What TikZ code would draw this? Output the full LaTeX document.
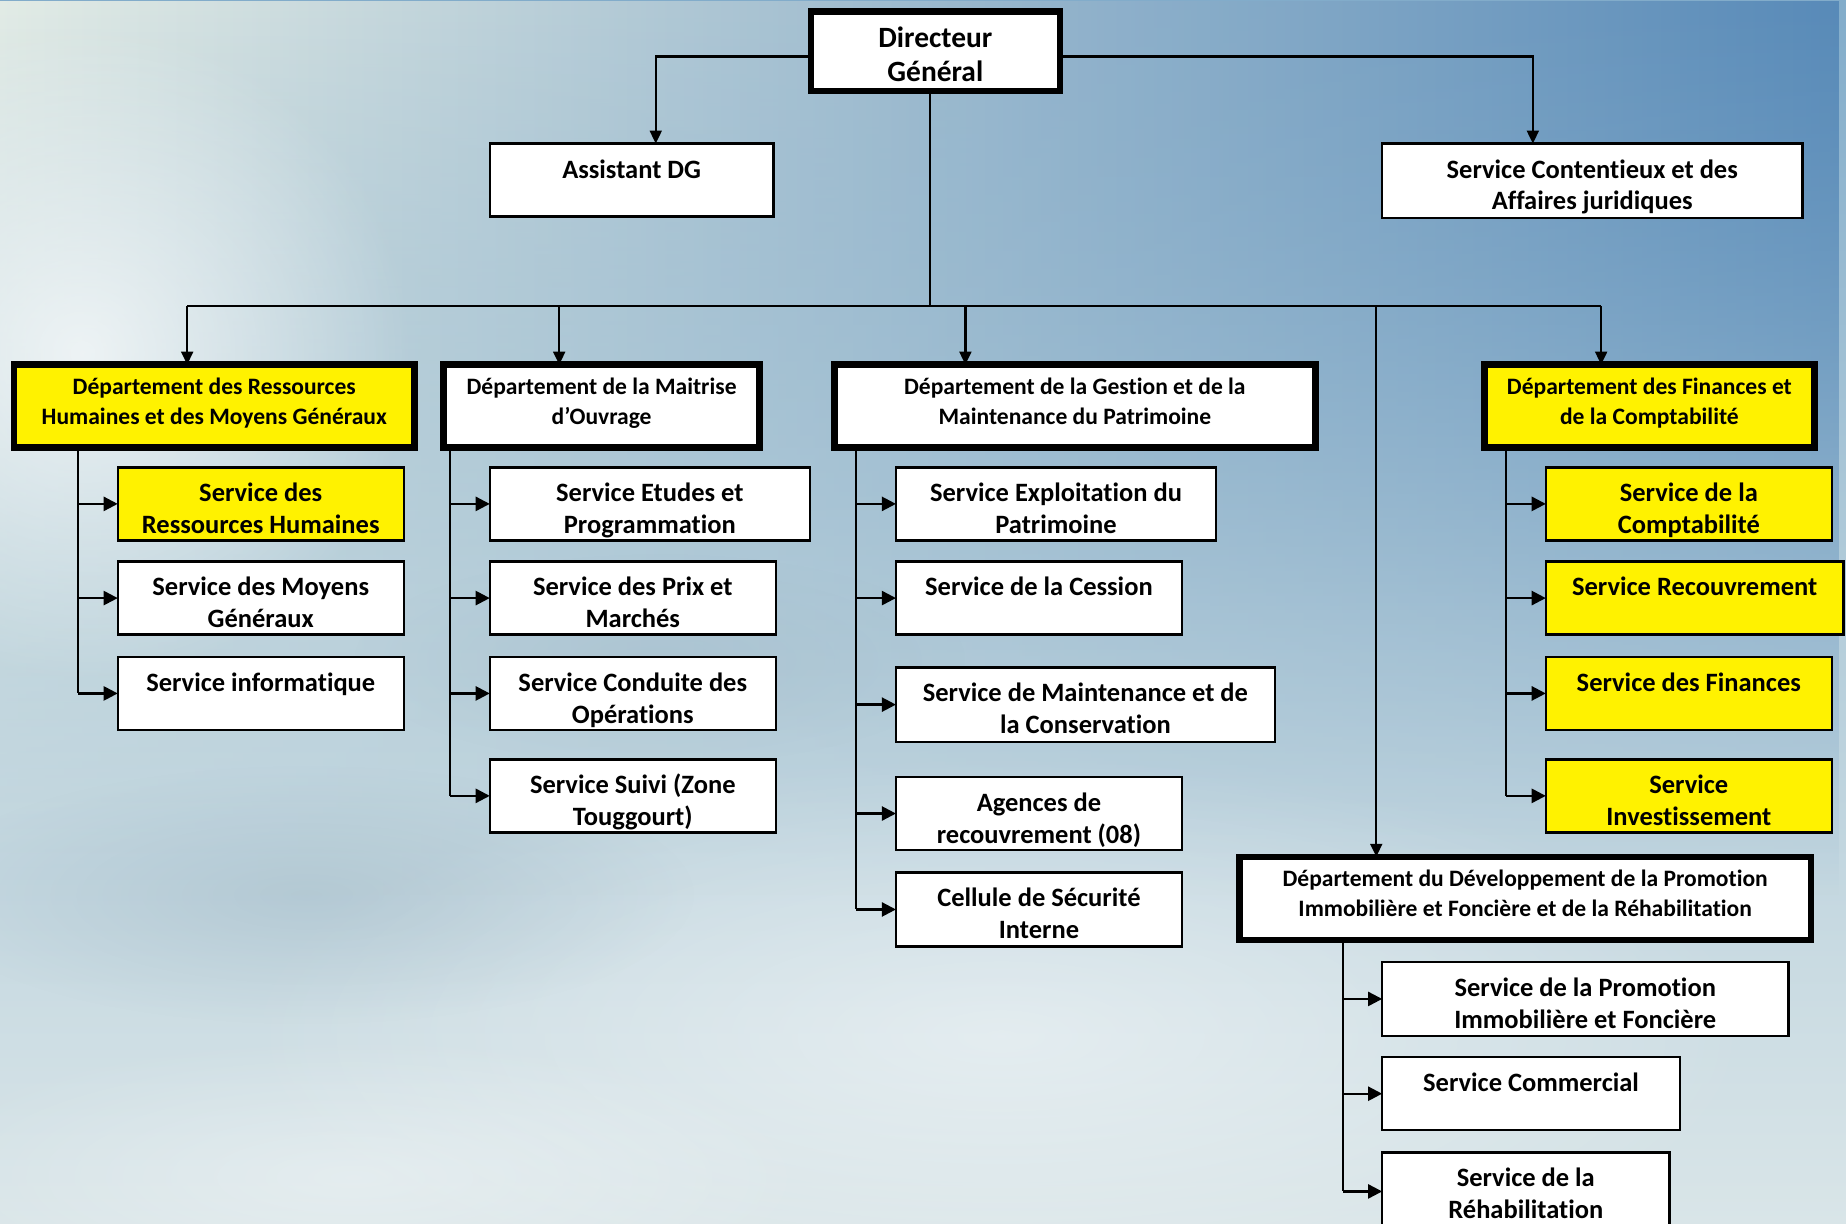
\documentclass[tikz,border=0pt]{standalone}
\usepackage{fontspec}
\setmainfont{Carlito}[Ligatures=NoCommon]
\usetikzlibrary{arrows.meta,fadings}
\tikzfading[name=fadedown, top color=transparent!0, bottom color=transparent!100]
\tikzfading[name=glowf, inner color=transparent!0, outer color=transparent!100]
\definecolor{bgtl}{HTML}{E3ECE6}
\definecolor{bgtm}{HTML}{82ACCA}
\definecolor{bgtr}{HTML}{588AB8}
\definecolor{bgbot}{HTML}{D9E5E8}
\definecolor{bgmid}{HTML}{B4CDDA}
\definecolor{cloudgrey}{HTML}{94AEBE}
\newcommand\myboff{29pt}
\newcommand\myins{0pt}
\tikzset{
  myboff/.store in=\myboff,
  myins/.store in=\myins,
  box/.style={draw=black, line width=2pt, fill=white, inner sep=0pt, outer sep=0pt,
    font=\fontsize{22.5}{27}\selectfont\bfseries, myboff=29.2pt, myins=0pt},
  yel/.style={fill=yellow},
  dept/.style={line width=5.5pt, myins=2.75pt, font=\fontsize{20}{25}\selectfont\bfseries, myboff=25.6pt},
  chief/.style={line width=5.5pt, myins=2.75pt, font=\fontsize{25}{29}\selectfont\bfseries, myboff=30.2pt},
  conn/.style={draw=black, line width=2pt},
  arr/.style={conn, -{Triangle[length=11pt,width=10pt]}},
  harr/.style={conn, -{Triangle[length=12pt,width=12pt]}},
}
% \bx[style]{name}{x1}{y1}{x2}{y2}{text}  (outer edges)
\newcommand\bx[7][]{%
  \node[box,#1] (#2) at ({(#3+#5)/2},{(#4+#6)/2})
   {\parbox[c][\dimexpr#6pt-#4pt-\myins-\myins\relax][t]{\dimexpr#5pt-#3pt-\myins-\myins\relax}{\centering\rule{0pt}{\myboff}#7\par}};}
\begin{document}
\begin{tikzpicture}[x=1pt,y=-1pt]
\useasboundingbox (0,0) rectangle (1568,1039);
\clip (0,0) rectangle (1568,1039);
% ---------- background ----------
\shade[top color=bgtm, bottom color=bgbot, middle color=bgmid] (0,0) rectangle (1568,1039);
\shade[left color=bgtl, middle color=bgtm, right color=bgtr, path fading=fadedown] (0,0) rectangle (1568,760);
\fill[white, opacity=0.7, path fading=glowf] (70,300) circle (280);
\fill[white, opacity=0.45, path fading=glowf] (850,880) ellipse (650 and 240);
\fill[cloudgrey, opacity=0.35, path fading=glowf] (260,760) ellipse (330 and 110);
\fill[cloudgrey, opacity=0.25, path fading=glowf] (560,560) ellipse (260 and 90);
\fill[white, opacity=0.35, path fading=glowf] (300,1000) ellipse (400 and 120);
% ---------- boxes ----------
\bx[chief]{dg}{686}{7}{903}{80}{Directeur\\Général}
\bx{asst}{416}{122}{657}{184}{Assistant DG}
\bx{cont}{1174}{122}{1531}{185}{Service Contentieux et des\\Affaires juridiques}
\bx[dept,yel]{d1}{9}{307}{355}{383}{Département des Ressources\\Humaines et des Moyens Généraux}
\bx[dept]{d2}{374}{307}{648}{383}{Département de la Maitrise\\d’Ouvrage}
\bx[dept]{d3}{706}{307}{1120}{383}{Département de la Gestion et de la\\Maintenance du Patrimoine}
\bx[dept,yel]{d4}{1258}{307}{1544}{383}{Département des Finances et\\de la Comptabilité}
\bx[dept]{d5}{1050}{725}{1541}{801}{Département du Développement de la Promotion\\Immobilière et Foncière et de la Réhabilitation}
% RH
\bx[yel]{s11}{100}{397}{343}{459}{Service des\\Ressources Humaines}
\bx{s12}{100}{477}{343}{539}{Service des Moyens\\Généraux}
\bx{s13}{100}{558}{343}{620}{Service informatique}
% MO
\bx{s21}{416}{397}{688}{459}{Service Etudes et\\Programmation}
\bx{s22}{416}{477}{659}{539}{Service des Prix et\\Marchés}
\bx{s23}{416}{558}{659}{620}{Service Conduite des\\Opérations}
\bx{s24}{416}{645}{659}{707}{Service Suivi (Zone\\Touggourt)}
% Gestion
\bx{s31}{761}{397}{1033}{459}{Service Exploitation du\\Patrimoine}
\bx{s32}{761}{477}{1004}{539}{Service de la Cession}
\bx{s33}{761}{567}{1083}{630}{Service de Maintenance et de\\la Conservation}
\bx{s34}{761}{660}{1004}{722}{Agences de\\recouvrement (08)}
\bx{s35}{761}{741}{1004}{804}{Cellule de Sécurité\\Interne}
% Finance
\bx[yel]{s41}{1313}{397}{1556}{459}{Service de la\\Comptabilité}
\bx[yel]{s42}{1313}{477}{1566}{539}{Service Recouvrement}
\bx[yel]{s43}{1313}{558}{1556}{620}{Service des Finances}
\bx[yel]{s44}{1313}{645}{1556}{707}{Service\\Investissement}
% Developpement
\bx{s51}{1174}{817}{1519}{880}{Service de la Promotion\\Immobilière et Foncière}
\bx{s52}{1174}{898}{1427}{960}{Service Commercial}
\bx{s53}{1174}{979}{1418}{1045}{Service de la\\Réhabilitation}
% ---------- connectors ----------
\coordinate (dgl) at ([yshift=-4.5pt]dg.west);
\coordinate (dgr) at ([yshift=-4.5pt]dg.east);
\coordinate (asn) at ([xshift=20.5pt]asst.north);
\coordinate (ctn) at ([xshift=-50.5pt]cont.north);
\draw[arr] (dgl) -| (asn);
\draw[arr] (dgr) -| (ctn);
\coordinate (busy) at (0,260);
\coordinate (g0) at ([xshift=-4.5pt]dg.south);
\coordinate (t1) at ([xshift=-23pt]d1.north);
\coordinate (t2) at ([xshift=-36pt]d2.north);
\coordinate (t3) at ([xshift=-93pt]d3.north);
\coordinate (t4) at ([xshift=-41pt]d4.north);
\coordinate (t5) at ([xshift=-126.5pt]d5.north);
\draw[conn] (g0) -- (g0 |- busy);
\draw[conn] (t1 |- busy) -- (t4 |- busy);
\foreach \t in {t1,t2,t3,t4,t5} \draw[arr] (\t |- busy) -- (\t);
% columns
\coordinate (c1) at ([xshift=-116pt]d1.south);
\coordinate (c2) at ([xshift=-129pt]d2.south);
\coordinate (c3) at ([xshift=-186pt]d3.south);
\coordinate (c4) at ([xshift=-122pt]d4.south);
\coordinate (c5) at ([xshift=-154.5pt]d5.south);
\draw[conn] (c1) -- (c1 |- s13.west);
\draw[conn] (c2) -- (c2 |- s24.west);
\draw[conn] (c3) -- (c3 |- s35.west);
\draw[conn] (c4) -- (c4 |- s44.west);
\draw[conn] (c5) -- (c5 |- s53.west);
\foreach \s in {s11,s12,s13} \draw[harr] (c1 |- \s.west) -- (\s.west);
\foreach \s in {s21,s22,s23,s24} \draw[harr] (c2 |- \s.west) -- (\s.west);
\foreach \s in {s31,s32,s33,s34,s35} \draw[harr] (c3 |- \s.west) -- (\s.west);
\foreach \s in {s41,s42,s43,s44} \draw[harr] (c4 |- \s.west) -- (\s.west);
\foreach \s in {s51,s52,s53} \draw[harr] (c5 |- \s.west) -- (\s.west);
\end{tikzpicture}
\end{document}
